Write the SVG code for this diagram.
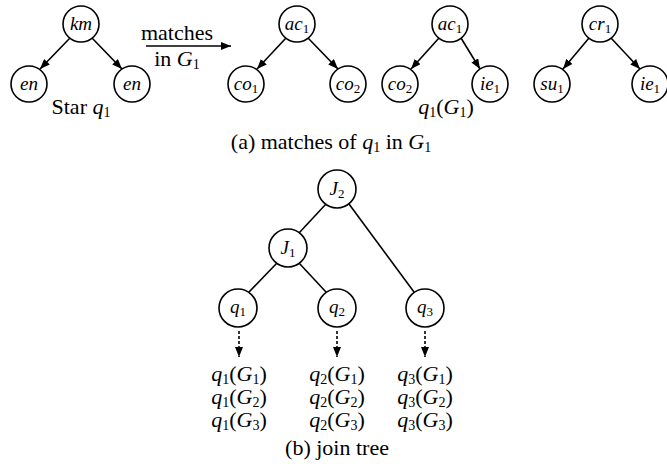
<svg xmlns="http://www.w3.org/2000/svg" width="667" height="464" viewBox="0 0 667 464" font-family="'Liberation Serif', 'Times New Roman', serif">
<defs>
<style>
.n{fill:#fff;stroke:#000;stroke-width:1.6}
.e{stroke:#000;stroke-width:1.6;fill:none}
.d{stroke:#000;stroke-width:1.6;fill:none;stroke-dasharray:3,2}
text{font-family:'Liberation Serif','Times New Roman',serif;fill:#000}
.l{font-size:19px;font-style:italic;text-anchor:middle}
.t{font-size:22px;text-anchor:middle}
.i{font-style:italic}
.s{font-size:14px;font-style:normal}
.ls{font-size:13px;font-style:normal}
</style>
<marker id="ah" viewBox="0 0 10 8" refX="10" refY="4" markerWidth="10" markerHeight="8" orient="auto" markerUnits="userSpaceOnUse">
<path d="M0,0 L10,4 L0,8 z" fill="#000"/>
</marker>
</defs>
<g id="connectors">
<line class="e" x1="70" y1="38" x2="40" y2="69" marker-end="url(#ah)"/>
<line class="e" x1="92" y1="38" x2="122" y2="69" marker-end="url(#ah)"/>
<line class="e" x1="146" y1="46" x2="231" y2="46" marker-end="url(#ah)"/>
<line class="e" x1="286" y1="38" x2="257" y2="69" marker-end="url(#ah)"/>
<line class="e" x1="308" y1="38" x2="338" y2="69" marker-end="url(#ah)"/>
<line class="e" x1="439" y1="38" x2="411" y2="69" marker-end="url(#ah)"/>
<line class="e" x1="461" y1="38" x2="480" y2="69" marker-end="url(#ah)"/>
<line class="e" x1="589" y1="38" x2="563" y2="69" marker-end="url(#ah)"/>
<line class="e" x1="611" y1="38" x2="640" y2="69" marker-end="url(#ah)"/>
<line class="e" x1="326" y1="204" x2="299" y2="233"/>
<line class="e" x1="349" y1="204" x2="414" y2="292"/>
<line class="e" x1="277" y1="263" x2="249" y2="292"/>
<line class="e" x1="299" y1="263" x2="326" y2="292"/>
<line class="d" x1="239" y1="331" x2="239" y2="357" marker-end="url(#ah)"/>
<line class="d" x1="337" y1="331" x2="337" y2="357" marker-end="url(#ah)"/>
<line class="d" x1="425" y1="331" x2="425" y2="357" marker-end="url(#ah)"/>
</g>
<g id="km"><circle class="n" cx="81" cy="24" r="18"/><text class="l" x="81" y="30">km</text></g>
<g id="en1"><circle class="n" cx="29" cy="84" r="18"/><text class="l" x="29" y="90">en</text></g>
<g id="en2"><circle class="n" cx="132" cy="84" r="18"/><text class="l" x="132" y="90">en</text></g>
<g id="star-label"><text class="t" x="81" y="114">Star <tspan class="i">q</tspan><tspan class="s" dy="3">1</tspan></text></g>
<g id="matches-label">
<text class="t" x="177" y="40">matches</text>
<text class="t" x="177" y="66">in <tspan class="i">G</tspan><tspan class="s" dy="3">1</tspan></text>
</g>
<g id="ac1a"><circle class="n" cx="297" cy="24" r="18"/><text class="l" x="297" y="30">ac<tspan class="ls" dy="3">1</tspan></text></g>
<g id="co1"><circle class="n" cx="246" cy="84" r="18"/><text class="l" x="246" y="90">co<tspan class="ls" dy="3">1</tspan></text></g>
<g id="co2a"><circle class="n" cx="348" cy="84" r="18"/><text class="l" x="348" y="90">co<tspan class="ls" dy="3">2</tspan></text></g>
<g id="ac1b"><circle class="n" cx="450" cy="24" r="18"/><text class="l" x="450" y="30">ac<tspan class="ls" dy="3">1</tspan></text></g>
<g id="co2b"><circle class="n" cx="400" cy="84" r="18"/><text class="l" x="400" y="90">co<tspan class="ls" dy="3">2</tspan></text></g>
<g id="ie1a"><circle class="n" cx="490" cy="84" r="18"/><text class="l" x="490" y="90">ie<tspan class="ls" dy="3">1</tspan></text></g>
<g id="cr1"><circle class="n" cx="600" cy="24" r="18"/><text class="l" x="600" y="30">cr<tspan class="ls" dy="3">1</tspan></text></g>
<g id="su1"><circle class="n" cx="552" cy="84" r="18"/><text class="l" x="552" y="90">su<tspan class="ls" dy="3">1</tspan></text></g>
<g id="ie1b"><circle class="n" cx="650" cy="84" r="18"/><text class="l" x="650" y="90">ie<tspan class="ls" dy="3">1</tspan></text></g>
<g id="q1G1-label"><text class="t" x="446" y="114"><tspan class="i">q</tspan><tspan class="s" dy="3">1</tspan><tspan dy="-3">(</tspan><tspan class="i">G</tspan><tspan class="s" dy="3">1</tspan><tspan dy="-3">)</tspan></text></g>
<g id="caption-a"><text class="t" x="331" y="149">(a) matches of <tspan class="i">q</tspan><tspan class="s" dy="3">1</tspan><tspan dy="-3"> in </tspan><tspan class="i">G</tspan><tspan class="s" dy="3">1</tspan></text></g>
<g id="J2"><circle class="n" cx="337" cy="189" r="19"/><text class="l" x="337" y="195">J<tspan class="ls" dy="3">2</tspan></text></g>
<g id="J1"><circle class="n" cx="288" cy="248" r="19"/><text class="l" x="288" y="254">J<tspan class="ls" dy="3">1</tspan></text></g>
<g id="q1"><circle class="n" cx="238" cy="308" r="19"/><text class="l" x="238" y="313">q<tspan class="ls" dy="3">1</tspan></text></g>
<g id="q2"><circle class="n" cx="337" cy="308" r="19"/><text class="l" x="337" y="313">q<tspan class="ls" dy="3">2</tspan></text></g>
<g id="q3"><circle class="n" cx="425" cy="308" r="19"/><text class="l" x="425" y="313">q<tspan class="ls" dy="3">3</tspan></text></g>
<g id="q1-results">
<text class="t" x="239" y="381"><tspan class="i">q</tspan><tspan class="s" dy="3">1</tspan><tspan dy="-3">(</tspan><tspan class="i">G</tspan><tspan class="s" dy="3">1</tspan><tspan dy="-3">)</tspan></text>
<text class="t" x="239" y="404"><tspan class="i">q</tspan><tspan class="s" dy="3">1</tspan><tspan dy="-3">(</tspan><tspan class="i">G</tspan><tspan class="s" dy="3">2</tspan><tspan dy="-3">)</tspan></text>
<text class="t" x="239" y="427"><tspan class="i">q</tspan><tspan class="s" dy="3">1</tspan><tspan dy="-3">(</tspan><tspan class="i">G</tspan><tspan class="s" dy="3">3</tspan><tspan dy="-3">)</tspan></text>
</g>
<g id="q2-results">
<text class="t" x="337" y="381"><tspan class="i">q</tspan><tspan class="s" dy="3">2</tspan><tspan dy="-3">(</tspan><tspan class="i">G</tspan><tspan class="s" dy="3">1</tspan><tspan dy="-3">)</tspan></text>
<text class="t" x="337" y="404"><tspan class="i">q</tspan><tspan class="s" dy="3">2</tspan><tspan dy="-3">(</tspan><tspan class="i">G</tspan><tspan class="s" dy="3">2</tspan><tspan dy="-3">)</tspan></text>
<text class="t" x="337" y="427"><tspan class="i">q</tspan><tspan class="s" dy="3">2</tspan><tspan dy="-3">(</tspan><tspan class="i">G</tspan><tspan class="s" dy="3">3</tspan><tspan dy="-3">)</tspan></text>
</g>
<g id="q3-results">
<text class="t" x="425" y="381"><tspan class="i">q</tspan><tspan class="s" dy="3">3</tspan><tspan dy="-3">(</tspan><tspan class="i">G</tspan><tspan class="s" dy="3">1</tspan><tspan dy="-3">)</tspan></text>
<text class="t" x="425" y="404"><tspan class="i">q</tspan><tspan class="s" dy="3">3</tspan><tspan dy="-3">(</tspan><tspan class="i">G</tspan><tspan class="s" dy="3">2</tspan><tspan dy="-3">)</tspan></text>
<text class="t" x="425" y="427"><tspan class="i">q</tspan><tspan class="s" dy="3">3</tspan><tspan dy="-3">(</tspan><tspan class="i">G</tspan><tspan class="s" dy="3">3</tspan><tspan dy="-3">)</tspan></text>
</g>
<g id="caption-b"><text class="t" x="337" y="455">(b) join tree</text></g>
</svg>
